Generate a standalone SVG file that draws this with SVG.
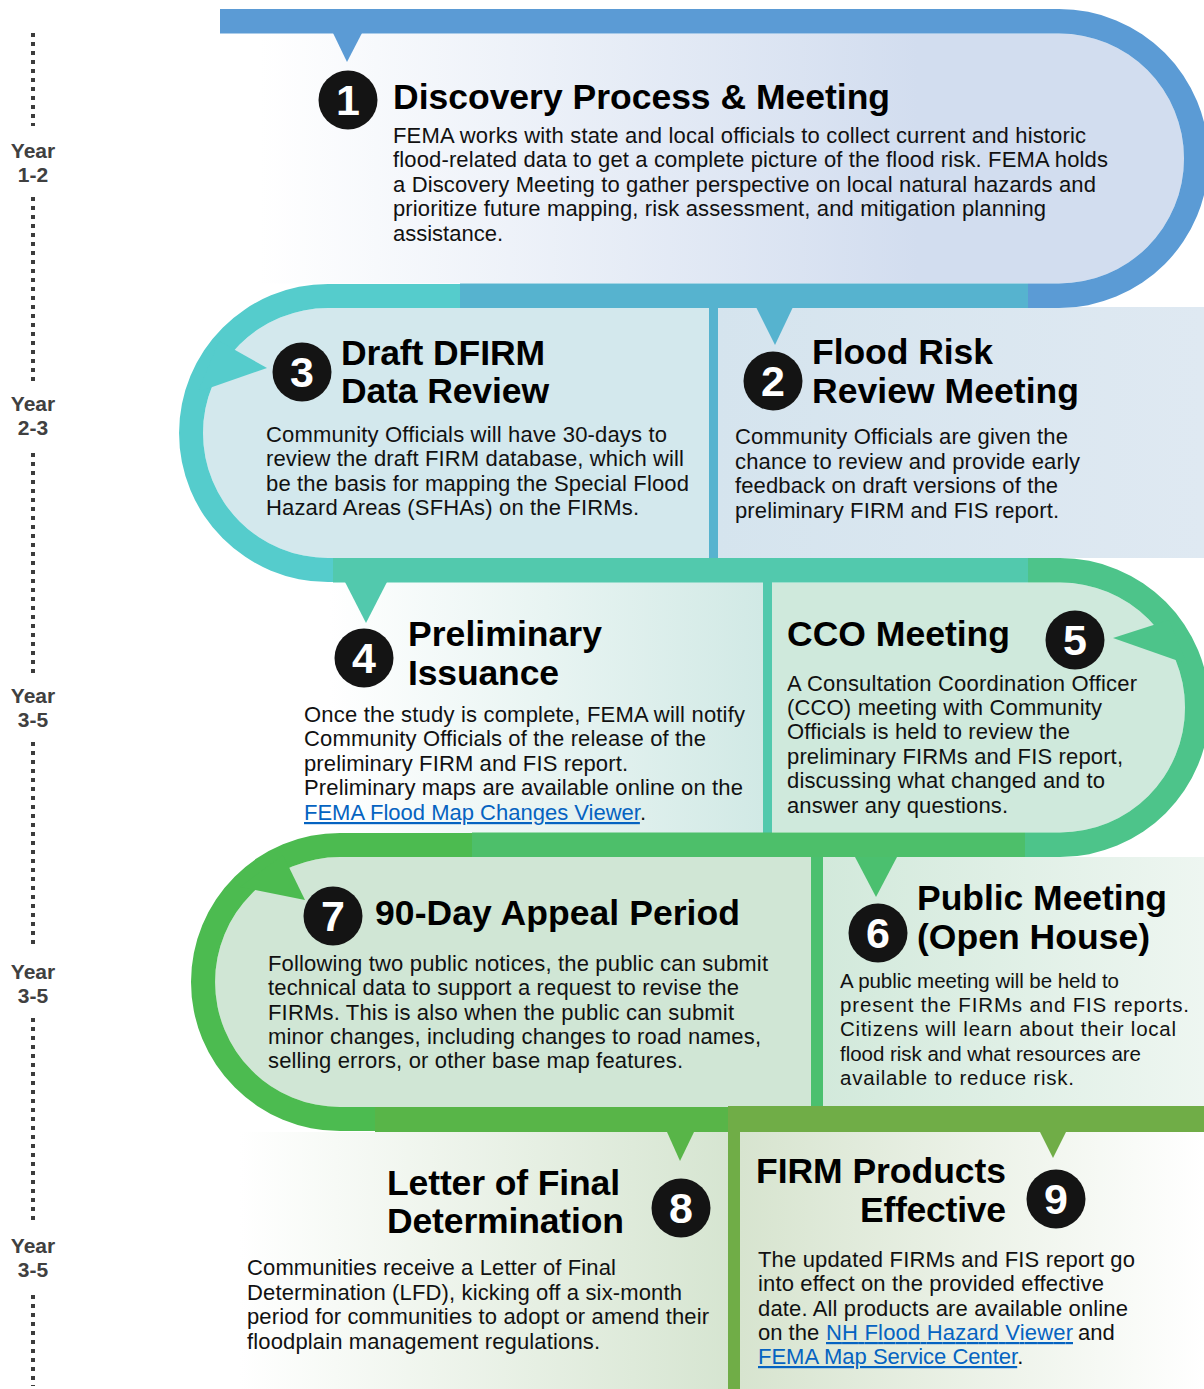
<svg xmlns="http://www.w3.org/2000/svg" width="1204" height="1389" viewBox="0 0 1204 1389">
  <defs>
    <style>
      .t{font-family:"Liberation Sans",Arial,sans-serif;font-weight:700;font-size:35.5px;fill:#000}
      .b{font-family:"Liberation Sans",Arial,sans-serif;font-size:22px;fill:#111}
      .s{font-size:20.5px}
      .lnk{fill:#0563c1;text-decoration:underline}
      .yr{font-family:"Liberation Sans",Arial,sans-serif;font-weight:700;font-size:21px;fill:#404040;text-anchor:middle}
      .dot{stroke:#3c3c3c;stroke-width:4;stroke-dasharray:4 5;fill:none}
      .badge circle{fill:#141414}
      .badge text{font-family:"Liberation Sans",Arial,sans-serif;font-weight:700;font-size:43px;fill:#fff;text-anchor:middle}
    </style>
    <linearGradient id="g1" gradientUnits="userSpaceOnUse" x1="260" y1="0" x2="918" y2="0">
      <stop offset="0" stop-color="#ffffff"/><stop offset="1" stop-color="#d2ddef"/>
    </linearGradient>
    <linearGradient id="g2" gradientUnits="userSpaceOnUse" x1="718" y1="0" x2="1204" y2="0">
      <stop offset="0" stop-color="#d5e4ee"/><stop offset="1" stop-color="#dfe9f2"/>
    </linearGradient>
    <linearGradient id="g4" gradientUnits="userSpaceOnUse" x1="330" y1="0" x2="763" y2="0">
      <stop offset="0" stop-color="#ffffff"/><stop offset="1" stop-color="#d1e9e5"/>
    </linearGradient>
    <linearGradient id="g6" gradientUnits="userSpaceOnUse" x1="823" y1="0" x2="1204" y2="0">
      <stop offset="0" stop-color="#d2e9db"/><stop offset="1" stop-color="#eef6f1"/>
    </linearGradient>
    <linearGradient id="g8" gradientUnits="userSpaceOnUse" x1="240" y1="0" x2="728" y2="0">
      <stop offset="0" stop-color="#ffffff"/><stop offset="1" stop-color="#d6e5d1"/>
    </linearGradient>
    <linearGradient id="g9" gradientUnits="userSpaceOnUse" x1="740" y1="0" x2="1204" y2="0">
      <stop offset="0" stop-color="#d7e4cf"/><stop offset="1" stop-color="#ffffff"/>
    </linearGradient>
  </defs>

  <rect width="1204" height="1389" fill="#ffffff"/>

  <!-- timeline on the left -->
  <g id="timeline">
    <line class="dot" x1="33" y1="33" x2="33" y2="126"/>
    <text class="yr" x="33" y="158">Year</text>
    <text class="yr" x="33" y="182">1-2</text>
    <line class="dot" x1="33" y1="197" x2="33" y2="382"/>
    <text class="yr" x="33" y="411">Year</text>
    <text class="yr" x="33" y="435">2-3</text>
    <line class="dot" x1="33" y1="453" x2="33" y2="673"/>
    <text class="yr" x="33" y="703">Year</text>
    <text class="yr" x="33" y="727">3-5</text>
    <line class="dot" x1="33" y1="742" x2="33" y2="949"/>
    <text class="yr" x="33" y="979">Year</text>
    <text class="yr" x="33" y="1003">3-5</text>
    <line class="dot" x1="33" y1="1018" x2="33" y2="1224"/>
    <text class="yr" x="33" y="1253">Year</text>
    <text class="yr" x="33" y="1277">3-5</text>
    <line class="dot" x1="33" y1="1295" x2="33" y2="1386"/>
  </g>

  <!-- step 1 -->
  <g id="node-1">
    <path d="M220,33.5 H1059 A125,125 0 0 1 1059,283.5 H220 Z" fill="url(#g1)"/>
    <g class="badge"><circle cx="348" cy="100" r="29.5"/><text x="348" y="115">1</text></g>
    <text class="t" x="393" y="109" textLength="497">Discovery Process &amp; Meeting</text>
    <text class="b" x="393" y="143" textLength="693">FEMA works with state and local officials to collect current and historic</text>
    <text class="b" x="393" y="167" textLength="715">flood-related data to get a complete picture of the flood risk. FEMA holds</text>
    <text class="b" x="393" y="192" textLength="703">a Discovery Meeting to gather perspective on local natural hazards and</text>
    <text class="b" x="393" y="216" textLength="653">prioritize future mapping, risk assessment, and mitigation planning</text>
    <text class="b" x="393" y="241" textLength="110">assistance.</text>
  </g>

  <!-- step 3 -->
  <g id="node-3">
    <path d="M328,308 H709 V558 H328 A125,125 0 0 1 328,308 Z" fill="#d3e8ed"/>
    <g class="badge"><circle cx="302" cy="372" r="29.5"/><text x="302" y="387">3</text></g>
    <text class="t" x="341" y="365" textLength="204">Draft DFIRM</text>
    <text class="t" x="341" y="403" textLength="208">Data Review</text>
    <text class="b" x="266" y="442" textLength="401">Community Officials will have 30-days to</text>
    <text class="b" x="266" y="466" textLength="418">review the draft FIRM database, which will</text>
    <text class="b" x="266" y="491" textLength="423">be the basis for mapping the Special Flood</text>
    <text class="b" x="266" y="515" textLength="373">Hazard Areas (SFHAs) on the FIRMs.</text>
  </g>

  <!-- step 2 -->
  <g id="node-2">
    <rect x="718" y="307" width="486" height="251" fill="url(#g2)"/>
    <g class="badge"><circle cx="773" cy="381" r="29.5"/><text x="773" y="396">2</text></g>
    <text class="t" x="812" y="364" textLength="181">Flood Risk</text>
    <text class="t" x="812" y="403" textLength="267">Review Meeting</text>
    <text class="b" x="735" y="444" textLength="333">Community Officials are given the</text>
    <text class="b" x="735" y="469" textLength="345">chance to review and provide early</text>
    <text class="b" x="735" y="493" textLength="323">feedback on draft versions of the</text>
    <text class="b" x="735" y="518" textLength="324">preliminary FIRM and FIS report.</text>
  </g>

  <!-- step 4 -->
  <g id="node-4">
    <rect x="300" y="582" width="463" height="251" fill="url(#g4)"/>
    <g class="badge"><circle cx="364" cy="658" r="29.5"/><text x="364" y="673">4</text></g>
    <text class="t" x="408" y="646" textLength="194">Preliminary</text>
    <text class="t" x="408" y="685" textLength="151">Issuance</text>
    <text class="b" x="304" y="722" textLength="441">Once the study is complete, FEMA will notify</text>
    <text class="b" x="304" y="746" textLength="402">Community Officials of the release of the</text>
    <text class="b" x="304" y="771" textLength="324">preliminary FIRM and FIS report.</text>
    <text class="b" x="304" y="795" textLength="439">Preliminary maps are available online on the</text>
    <text class="b" x="304" y="820"><tspan class="lnk">FEMA Flood Map Changes Viewer</tspan>.</text>
  </g>

  <!-- step 5 -->
  <g id="node-5">
    <path d="M772,582.5 H1060 A125,125 0 0 1 1060,832.5 H772 Z" fill="#cfe9dc"/>
    <g class="badge"><circle cx="1075" cy="640" r="29.5"/><text x="1075" y="655">5</text></g>
    <text class="t" x="787" y="646" textLength="223">CCO Meeting</text>
    <text class="b" x="787" y="691" textLength="350">A Consultation Coordination Officer</text>
    <text class="b" x="787" y="715" textLength="315">(CCO) meeting with Community</text>
    <text class="b" x="787" y="739" textLength="283">Officials is held to review the</text>
    <text class="b" x="787" y="764" textLength="336">preliminary FIRMs and FIS report,</text>
    <text class="b" x="787" y="788" textLength="318">discussing what changed and to</text>
    <text class="b" x="787" y="813" textLength="221">answer any questions.</text>
  </g>

  <!-- step 7 -->
  <g id="node-7">
    <path d="M340,857 H811 V1107 H340 A125,125 0 0 1 340,857 Z" fill="#d0e6d5"/>
    <g class="badge"><circle cx="333" cy="916" r="29.5"/><text x="333" y="931">7</text></g>
    <text class="t" x="375" y="925" textLength="365">90-Day Appeal Period</text>
    <text class="b" x="268" y="971" textLength="500">Following two public notices, the public can submit</text>
    <text class="b" x="268" y="995" textLength="471">technical data to support a request to revise the</text>
    <text class="b" x="268" y="1020" textLength="466">FIRMs. This is also when the public can submit</text>
    <text class="b" x="268" y="1044" textLength="493">minor changes, including changes to road names,</text>
    <text class="b" x="268" y="1068" textLength="415">selling errors, or other base map features.</text>
  </g>

  <!-- step 6 -->
  <g id="node-6">
    <rect x="823" y="857" width="381" height="250" fill="url(#g6)"/>
    <g class="badge"><circle cx="878" cy="933" r="29.5"/><text x="878" y="948">6</text></g>
    <text class="t" x="917" y="910" textLength="250">Public Meeting</text>
    <text class="t" x="917" y="949" textLength="233">(Open House)</text>
    <text class="b s" x="840" y="988" textLength="279">A public meeting will be held to</text>
    <text class="b s" x="840" y="1012" textLength="349">present the FIRMs and FIS reports.</text>
    <text class="b s" x="840" y="1036" textLength="336">Citizens will learn about their local</text>
    <text class="b s" x="840" y="1061" textLength="301">flood risk and what resources are</text>
    <text class="b s" x="840" y="1085" textLength="234">available to reduce risk.</text>
  </g>

  <!-- step 8 -->
  <g id="node-8">
    <rect x="230" y="1132" width="498" height="257" fill="url(#g8)"/>
    <g class="badge"><circle cx="681" cy="1208" r="29.5"/><text x="681" y="1223">8</text></g>
    <text class="t" x="387" y="1195" textLength="233">Letter of Final</text>
    <text class="t" x="387" y="1233" textLength="237">Determination</text>
    <text class="b" x="247" y="1275" textLength="369">Communities receive a Letter of Final</text>
    <text class="b" x="247" y="1300" textLength="435">Determination (LFD), kicking off a six-month</text>
    <text class="b" x="247" y="1324" textLength="462">period for communities to adopt or amend their</text>
    <text class="b" x="247" y="1349" textLength="353">floodplain management regulations.</text>
  </g>

  <!-- step 9 -->
  <g id="node-9">
    <rect x="740" y="1132" width="464" height="257" fill="url(#g9)"/>
    <g class="badge"><circle cx="1056" cy="1199" r="29.5"/><text x="1056" y="1214">9</text></g>
    <text class="t" x="756" y="1183" textLength="250">FIRM Products</text>
    <text class="t" x="1006" y="1222" text-anchor="end" textLength="146">Effective</text>
    <text class="b" x="758" y="1267" textLength="377">The updated FIRMs and FIS report go</text>
    <text class="b" x="758" y="1291" textLength="346">into effect on the provided effective</text>
    <text class="b" x="758" y="1316" textLength="370">date. All products are available online</text>
    <text class="b" x="758" y="1340">on the</text>
    <text class="b lnk" x="826" y="1340" textLength="247">NH Flood Hazard Viewer</text>
    <text class="b" x="1078" y="1340">and</text>
    <text class="b" x="758" y="1364"><tspan class="lnk">FEMA Map Service Center</tspan>.</text>
  </g>

  <!-- bands, curved turns and pointers linking the steps -->
  <g id="connectors">
    <!-- 1 -->
    <path d="M220,9 H1059 A149.5,149.5 0 0 1 1059,308 H1028 V283.5 H1059 A125,125 0 0 0 1059,33.5 H220 Z" fill="#5b9bd5"/>
    <path d="M333,33 L362,33 L347,62 Z" fill="#5b9bd5"/>
    <!-- 1 to 2 -->
    <rect x="460" y="283.5" width="568" height="24.5" fill="#56b3cf"/>
    <path d="M756,307 L793,307 L775,345 Z" fill="#56b3cf"/>
    <rect x="709" y="307" width="9" height="252" fill="#56b3cf"/>
    <!-- 2 to 3 -->
    <path d="M460,284 H328 A149,149 0 0 0 328,582 H333 V558 H328 A125,125 0 0 1 328,308 H460 Z" fill="#55cccc"/>
    <path d="M267,368 L219,341 L198,392 Z" fill="#55cccc"/>
    <!-- 3 to 4 -->
    <rect x="333" y="558" width="695" height="24.5" fill="#52c9ad"/>
    <path d="M345,582 L387,582 L366,623 Z" fill="#52c9ad"/>
    <rect x="763" y="582" width="9" height="252" fill="#52c9ad"/>
    <!-- 4 to 5 -->
    <path d="M1028,558 H1060 A149.5,149.5 0 0 1 1060,857 H1025 V832.5 H1060 A125,125 0 0 0 1060,582.5 H1028 Z" fill="#4dc48a"/>
    <path d="M1113,638 L1169,620 L1187,664 Z" fill="#4dc48a"/>
    <!-- 5 to 6 -->
    <rect x="472" y="832.5" width="553" height="24.5" fill="#4dbf6a"/>
    <path d="M855,857 L897,857 L876,897 Z" fill="#4bc06f"/>
    <rect x="811" y="857" width="12" height="250" fill="#4bc06f"/>
    <!-- 6 to 7 -->
    <path d="M472,833 H340 A149,149 0 0 0 340,1131 H375 V1107 H340 A125,125 0 0 1 340,857 H472 Z" fill="#4cbb50"/>
    <path d="M305,900 L283,855 L240,887 Z" fill="#4cbb50"/>
    <!-- 7 to 8 -->
    <rect x="375" y="1107" width="353" height="25" fill="#58b548"/>
    <path d="M667,1132 L694,1132 L680,1161 Z" fill="#58b548"/>
    <!-- 8 to 9 -->
    <rect x="728" y="1106" width="476" height="26" fill="#70ad47"/>
    <rect x="728" y="1106" width="12" height="283" fill="#70ad47"/>
    <path d="M1040,1132 L1066,1132 L1053,1158 Z" fill="#70ad47"/>
  </g>
</svg>
